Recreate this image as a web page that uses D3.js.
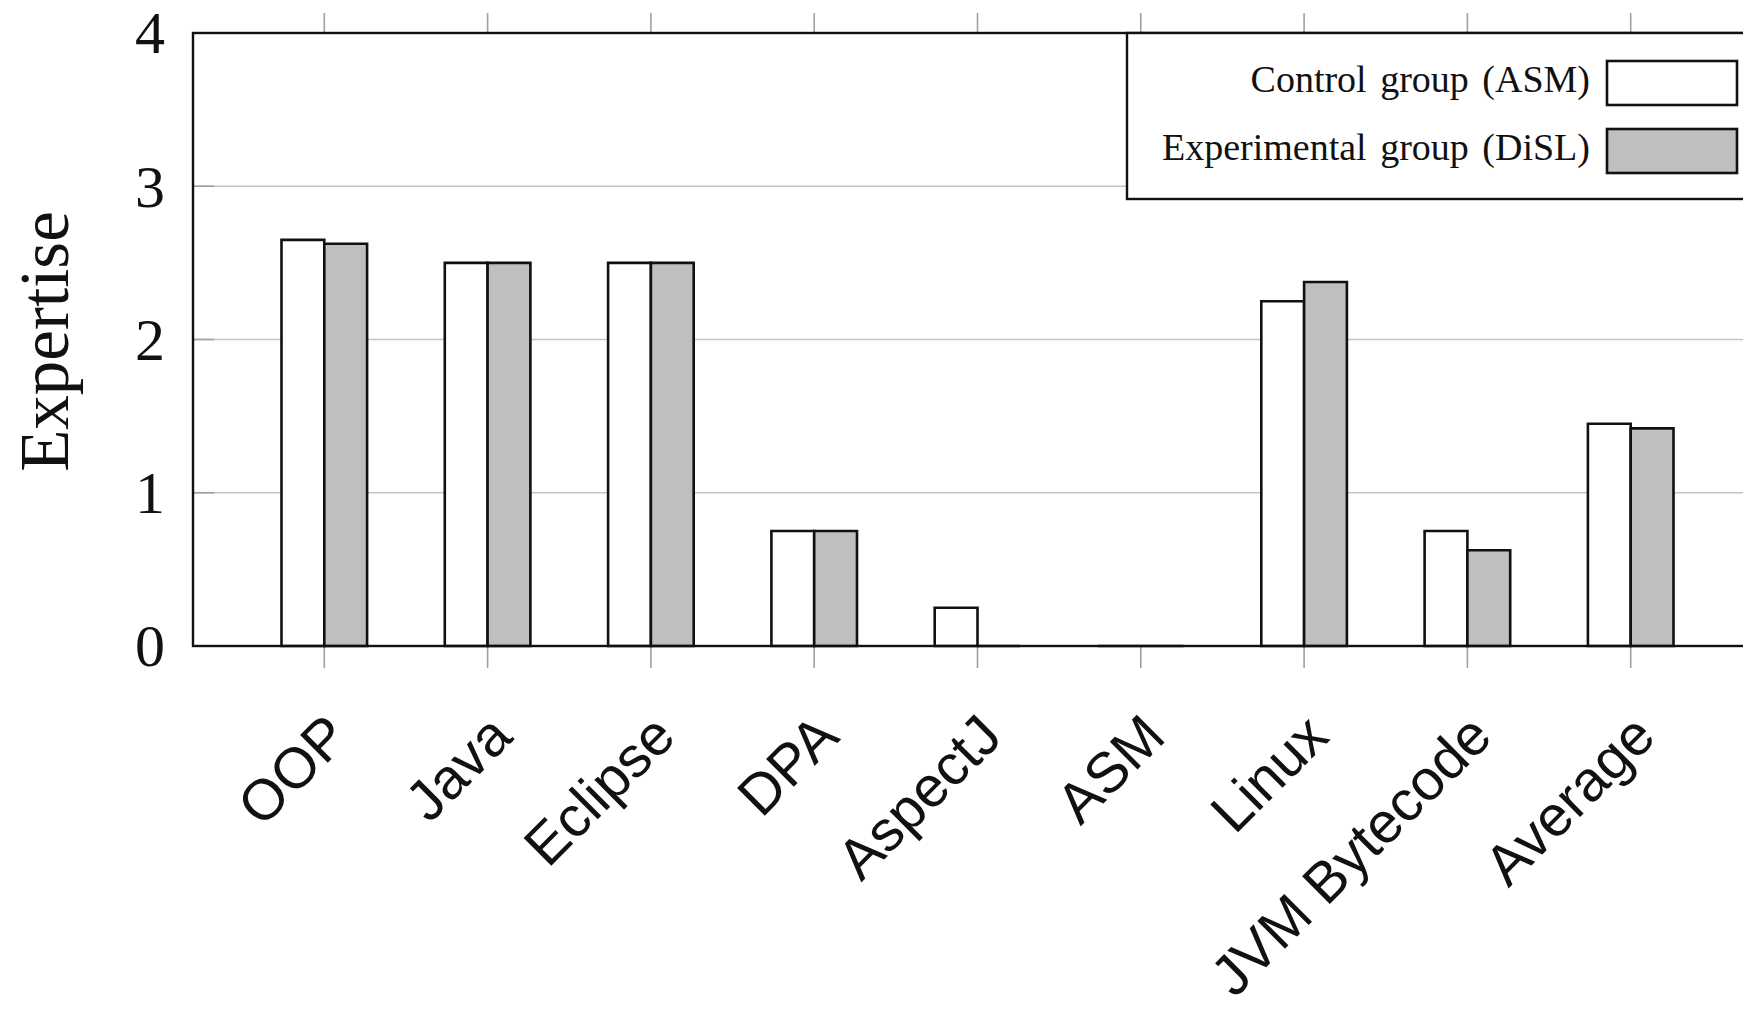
<!DOCTYPE html>
<html>
<head>
<meta charset="utf-8">
<script src="https://cdn.jsdelivr.net/npm/d3@7"></script>
<style>
	body { margin: 0; background: #fff; }
</style>
</head>
<body>
<script>
// data
var categories = ['OOP', 'Java', 'Eclipse', 'DPA', 'AspectJ', 'ASM', 'Linux', 'JVM Bytecode', 'Average'];
var controlValues = [2.65, 2.5, 2.5, 0.75, 0.25, 0, 2.25, 0.75, 1.45];
var experimentalValues = [2.625, 2.5, 2.5, 0.75, 0, 0, 2.375, 0.625, 1.42];
var seriesNames = ['Control group (ASM)', 'Experimental group (DiSL)'];
var seriesFills = ['#ffffff', '#bfbfbf'];
var yTicks = [0, 1, 2, 3, 4];

var width = 1743,
	height = 1011,
	// plot frame; the right side runs past the picture edge
	frame = {left: 193, top: 33, bottom: 646, right: 1762};

var svg = d3.select('body').append('svg')
	.attr('width', width)
	.attr('height', height)
	.style('background', '#fff');

var xScale = d3.scalePoint().domain(categories).range([frame.left, frame.right]).padding(0.804),
	yScale = d3.scaleLinear().domain([0, 4]).range([frame.bottom, frame.top]);

var barWidth = 42.8;

// horizontal grid
svg.append('g')
	.selectAll('line')
	.data(yTicks.slice(1, -1))
	.enter().append('line')
	.attr('x1', frame.left)
	.attr('x2', frame.right)
	.attr('y1', function(d) { return yScale(d); })
	.attr('y2', function(d) { return yScale(d); })
	.attr('stroke', '#c4c4c4')
	.attr('stroke-width', 1.6);

// y ticks, pointing inward
svg.append('g')
	.selectAll('line')
	.data(yTicks)
	.enter().append('line')
	.attr('x1', frame.left)
	.attr('x2', frame.left + 21)
	.attr('y1', function(d) { return yScale(d); })
	.attr('y2', function(d) { return yScale(d); })
	.attr('stroke', '#a0a0a0')
	.attr('stroke-width', 1.6);

// x ticks above the top and below the bottom of the frame
var xTicks = svg.append('g');
xTicks.selectAll('.tick-top')
	.data(categories)
	.enter().append('line')
	.attr('class', 'tick-top')
	.attr('x1', function(d) { return xScale(d); })
	.attr('x2', function(d) { return xScale(d); })
	.attr('y1', frame.top - 20)
	.attr('y2', frame.top)
	.attr('stroke', '#a0a0a0')
	.attr('stroke-width', 1.6);
xTicks.selectAll('.tick-bottom')
	.data(categories)
	.enter().append('line')
	.attr('class', 'tick-bottom')
	.attr('x1', function(d) { return xScale(d); })
	.attr('x2', function(d) { return xScale(d); })
	.attr('y1', frame.bottom)
	.attr('y2', frame.bottom + 22)
	.attr('stroke', '#a0a0a0')
	.attr('stroke-width', 1.6);

// bars as closed paths so zero values still show as a line
function barPath(x0, v) {
	var y0 = yScale(0), y1 = yScale(v);
	return 'M' + x0 + ',' + y0 + 'H' + (x0 + barWidth) + 'V' + y1 + 'H' + x0 + 'Z';
}

[controlValues, experimentalValues].forEach(function(values, s) {
	svg.append('g')
		.selectAll('path')
		.data(values)
		.enter().append('path')
		.attr('d', function(d, i) {
			var cx = xScale(categories[i]);
			return barPath(s === 0 ? cx - barWidth : cx, d);
		})
		.attr('fill', seriesFills[s])
		.attr('stroke', '#111')
		.attr('stroke-width', 2.6)
		.attr('stroke-linejoin', 'miter');
});

// frame
svg.append('rect')
	.attr('x', frame.left)
	.attr('y', frame.top)
	.attr('width', frame.right - frame.left)
	.attr('height', frame.bottom - frame.top)
	.attr('fill', 'none')
	.attr('stroke', '#111')
	.attr('stroke-width', 2.4);

// y tick labels
svg.append('g')
	.selectAll('text')
	.data(yTicks)
	.enter().append('text')
	.attr('x', 165)
	.attr('y', function(d) { return yScale(d); })
	.attr('dy', '0.34em')
	.attr('text-anchor', 'end')
	.style('font-family', '"Liberation Serif", serif')
	.style('font-size', '60px')
	.attr('fill', '#111')
	.text(function(d) { return d; });

// y axis title
svg.append('text')
	.attr('transform', 'translate(68,' + ((frame.top + frame.bottom) / 2 + 2) + ') rotate(-90)')
	.attr('text-anchor', 'middle')
	.style('font-family', '"Liberation Serif", serif')
	.style('font-size', '69px')
	.attr('fill', '#111')
	.text('Expertise');

// rotated category labels
svg.append('g')
	.selectAll('text')
	.data(categories)
	.enter().append('text')
	.attr('transform', function(d) {
		return 'translate(' + (xScale(d) + 15) + ',' + (frame.bottom + 81) + ') rotate(-45)';
	})
	.attr('dy', '0.3em')
	.attr('text-anchor', 'end')
	.style('font-family', '"Liberation Sans", sans-serif')
	.style('font-size', '57px')
	.attr('fill', '#111')
	.text(function(d) { return d; });

// legend
var legend = svg.append('g');
legend.append('rect')
	.attr('x', 1127)
	.attr('y', frame.top)
	.attr('width', 700)
	.attr('height', 166)
	.attr('fill', '#fff')
	.attr('stroke', '#111')
	.attr('stroke-width', 2.4);

var legendRows = [83, 151];
seriesNames.forEach(function(name, s) {
	legend.append('rect')
		.attr('x', 1607)
		.attr('y', legendRows[s] - 22)
		.attr('width', 130)
		.attr('height', 44)
		.attr('fill', seriesFills[s])
		.attr('stroke', '#111')
		.attr('stroke-width', 2.6);
	legend.append('text')
		.attr('x', 1590)
		.attr('y', legendRows[s] + 9)
		.attr('text-anchor', 'end')
		.style('font-family', '"Liberation Serif", serif')
		.style('font-size', '38px')
		.style('word-spacing', '4px')
		.attr('fill', '#111')
		.text(name);
});
</script>
</body>
</html>
